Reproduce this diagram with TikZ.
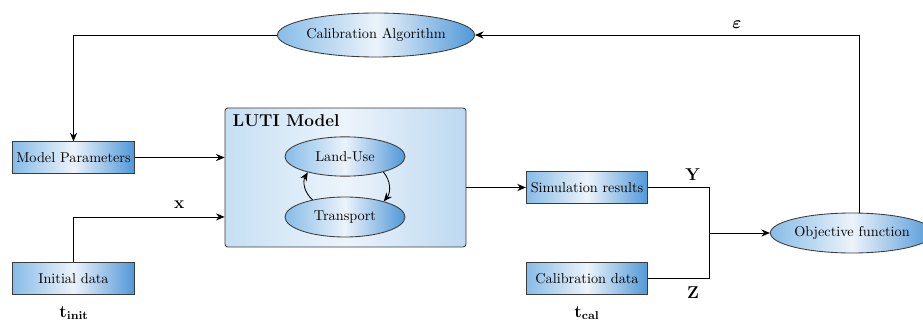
\documentclass[tikz,border=0pt]{standalone}
\usepackage{amsmath}
\usepackage{bm}
\usetikzlibrary{positioning,shapes.geometric,arrows.meta}
\definecolor{borderColor}{RGB}{60,60,60}
\definecolor{shadeLeft}{RGB}{135,188,232}
\definecolor{shadeMid}{RGB}{236,243,250}
\definecolor{shadeRight}{RGB}{80,152,216}
\definecolor{lutiLeft}{RGB}{198,223,243}
\definecolor{lutiMid}{RGB}{236,244,251}
\definecolor{lutiRight}{RGB}{188,216,240}
\tikzstyle{diagram} = [x = 0.7pt, y = -0.7pt]
\tikzstyle{shadeStyle} = [draw=borderColor, semithick, left color=shadeLeft, right color=shadeRight, middle color=shadeMid]
\tikzstyle{dataBox} = [shadeStyle, rectangle, minimum width=85pt, minimum height=22pt, inner sep=0pt]
\tikzstyle{processEllipse} = [shadeStyle, ellipse, inner sep=0pt]
\tikzstyle{modelBox} = [draw=borderColor, semithick, rounded corners=2pt, left color=lutiLeft, right color=lutiRight, middle color=lutiMid, minimum width=168.7pt, minimum height=97.3pt, inner sep=0pt]
\tikzstyle{flowLine} = [semithick, black]
\tikzstyle{flowArrow} = [flowLine, -{Stealth[length=6pt, width=5pt]}]
\tikzstyle{varLabel} = [font=\large]

\begin{document}
\begin{tikzpicture}[diagram]
  \useasboundingbox (0,0) rectangle (923,320);
  \node [processEllipse, minimum width=124.6pt, minimum height=30.8pt] (calAlgo) at (376,35) {Calibration Algorithm};
  \node [dataBox] (modelParams) at (73.5,157.5) {Model Parameters};
  \node [dataBox] (initData) at (73.5,278.5) {Initial data};
  \node [modelBox] (luti) at (345.5,177.5) {};
  \node [anchor=north west, font=\large\bfseries, inner sep=0pt] (lutiTitle) at ([shift={(5.5pt,-5pt)}]luti.north west) {LUTI Model};
  \node [processEllipse, minimum width=84pt, minimum height=27.5pt] (landUse) at (345,156.5) {Land-Use};
  \node [processEllipse, minimum width=84pt, minimum height=28pt] (transport) at (345,217) {Transport};
  \node [dataBox] (simResults) at (587,187.5) {Simulation results};
  \node [dataBox] (calData) at (587,278.5) {Calibration data};
  \node [processEllipse, minimum width=96.6pt, minimum height=28pt] (objective) at (852,233) {Objective function};
  \coordinate (join) at (709,233);
  \coordinate (epsCorner) at (859,35);

  \draw [flowArrow] (calAlgo.west) -| (modelParams.north);
  \draw [flowArrow] (modelParams.east) -- (modelParams.east -| luti.west);
  \draw [flowArrow] (initData.north) |- ([yshift=-27.6pt]luti.west) node [varLabel, pos=0.85, above=2pt] (xLabel) {$\mathbf{x}$};
  \draw [flowArrow] (transport.152) to [bend left=40] (landUse.203);
  \draw [flowArrow] (landUse.338) to [bend left=40] (transport.22);
  \draw [flowArrow] (luti.east |- simResults.west) -- (simResults.west);
  \draw [flowLine] (simResults.east) -| (join);
  \draw [flowLine] (calData.east) -| (join);
  \draw [flowArrow] (join) -- (objective.west);
  \draw [flowArrow] (objective.north -| epsCorner) -- (epsCorner) -- (calAlgo.east);

  \node [varLabel] (yLabel) at (693,175) {$\mathbf{Y}$};
  \node [varLabel] (zLabel) at (693,293) {$\mathbf{Z}$};
  \node [varLabel] (epsLabel) at (737,25) {$\bm{\varepsilon}$};
  \node [varLabel] (tInit) at (74,313) {$\mathbf{t_{init}}$};
  \node [varLabel] (tCal) at (587,313) {$\mathbf{t_{cal}}$};
\end{tikzpicture}
\end{document}
